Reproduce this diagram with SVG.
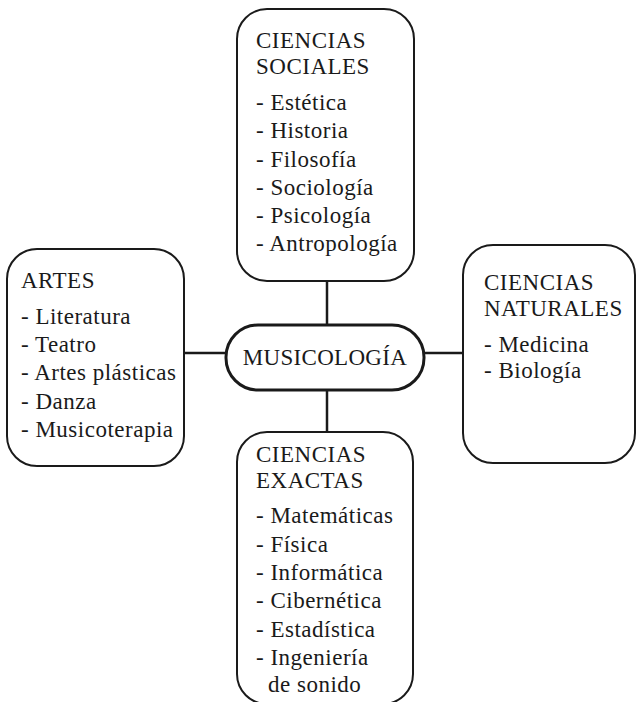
<svg xmlns="http://www.w3.org/2000/svg" width="636" height="702" viewBox="0 0 636 702" font-family="'Liberation Serif', 'Times New Roman', 'DejaVu Serif', serif">
<style>
.box{fill:#fff;stroke:#1a1a1a;stroke-width:2}
.main{fill:#fff;stroke:#1a1a1a;stroke-width:3}
.ln{stroke:#1a1a1a;stroke-width:2.5;fill:none}
.t{font-family:'Liberation Serif','Times New Roman','DejaVu Serif',serif;font-size:23px;letter-spacing:0.5px;fill:#1a1a1a}
</style>
<rect width="636" height="702" fill="#fff"/>
<g id="connectors">
<line class="ln" x1="327" y1="281" x2="327" y2="325"/>
<line class="ln" x1="327" y1="390" x2="327" y2="432"/>
<line class="ln" x1="184" y1="353" x2="226" y2="353"/>
<line class="ln" x1="424" y1="353" x2="463" y2="353"/>
</g>
<g id="sociales" class="t">
<rect class="box" x="237" y="9" width="177" height="272" rx="30"/>
<text x="256" y="48">CIENCIAS</text>
<text x="256" y="74">SOCIALES</text>
<text x="256" y="110">- Estética</text>
<text x="256" y="138">- Historia</text>
<text x="256" y="167">- Filosofía</text>
<text x="256" y="195">- Sociología</text>
<text x="256" y="223">- Psicología</text>
<text x="256" y="251">- Antropología</text>
</g>
<g id="artes" class="t">
<rect class="box" x="7" y="249" width="177" height="217" rx="30"/>
<text x="21" y="288">ARTES</text>
<text x="21" y="324">- Literatura</text>
<text x="21" y="352">- Teatro</text>
<text x="21" y="380">- Artes plásticas</text>
<text x="21" y="409">- Danza</text>
<text x="21" y="437">- Musicoterapia</text>
</g>
<g id="musicologia" class="t">
<rect class="main" x="226" y="325" width="198" height="65" rx="32"/>
<text x="325" y="365" text-anchor="middle" letter-spacing="0.3">MUSICOLOGÍA</text>
</g>
<g id="naturales" class="t">
<rect class="box" x="463" y="245" width="172" height="218" rx="30"/>
<text x="484" y="290">CIENCIAS</text>
<text x="484" y="316">NATURALES</text>
<text x="484" y="352">- Medicina</text>
<text x="484" y="378">- Biología</text>
</g>
<g id="exactas" class="t">
<rect class="box" x="237" y="432" width="176" height="272" rx="30"/>
<text x="256" y="462">CIENCIAS</text>
<text x="256" y="488">EXACTAS</text>
<text x="256" y="523">- Matemáticas</text>
<text x="256" y="552">- Física</text>
<text x="256" y="580">- Informática</text>
<text x="256" y="608">- Cibernética</text>
<text x="256" y="637">- Estadística</text>
<text x="256" y="665">- Ingeniería</text>
<text x="268" y="692">de sonido</text>
</g>
</svg>
